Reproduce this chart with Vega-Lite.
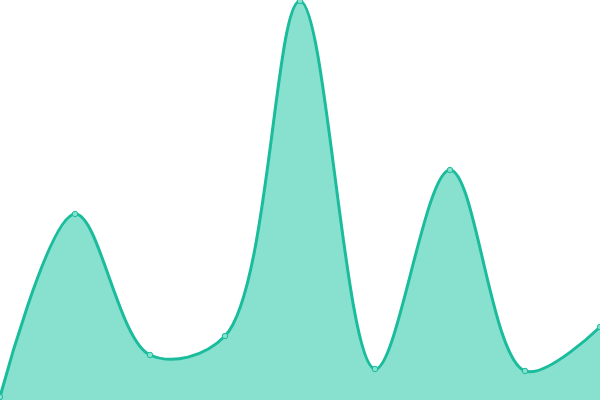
{
  "$schema": "https://vega.github.io/schema/vega-lite/v6.json",
  "width": 600,
  "height": 400,
  "padding": 0,
  "autosize": {"type": "none"},
  "data": {
    "values": [
      {"i": 0, "v": 3},
      {"i": 1, "v": 186},
      {"i": 2, "v": 45},
      {"i": 3, "v": 64},
      {"i": 4, "v": 399},
      {"i": 5, "v": 31},
      {"i": 6, "v": 230},
      {"i": 7, "v": 29},
      {"i": 8, "v": 73}
    ]
  },
  "encoding": {
    "x": {"field": "i", "type": "quantitative", "axis": null, "scale": {"domain": [0, 8], "nice": false}},
    "y": {"field": "v", "type": "quantitative", "axis": null, "scale": {"domain": [0, 400], "nice": false}}
  },
  "layer": [
    {
      "mark": {"type": "area", "interpolate": "catmull-rom", "color": "#88e0cf", "opacity": 1,
        "line": {"color": "#1abc9c", "strokeWidth": 3}}
    },
    {
      "mark": {"type": "point", "filled": true, "size": 30, "fill": "#88e0cf", "stroke": "#1abc9c", "strokeWidth": 1, "opacity": 1}
    }
  ],
  "config": {"view": {"stroke": null}}
}
